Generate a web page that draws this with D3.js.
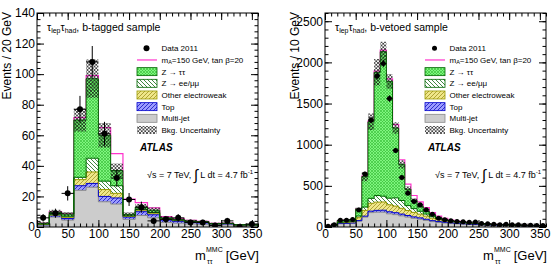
<!DOCTYPE html>
<html>
<head>
<meta charset="utf-8">
<script src="https://cdn.jsdelivr.net/npm/d3@7"></script>
<style>
  body { margin: 0; background: #fff; }
  text { font-family: "Liberation Sans", Arial, Helvetica, sans-serif; fill: #000; }
</style>
</head>
<body>
<div id="chart"></div>
<script>
// ---- b-tagged sample, 20 GeV bins (lower edges)
const tagBins = [0, 20, 40, 60, 80, 100, 120, 140, 160, 180, 200, 220, 240, 260, 280, 300, 320, 340];
const tagData = [6, 9, 22, 77, 108, 61, 32, 18, 13, 4, 5, 6, 3, 3, 1, 4, 0, 2];
const tagMultijet = [1.2, 6.5, 4.5, 24, 26, 16.5, 15, 5, 7.5, 6, 3, 2.5, 2, 1.8, 1.2, 1.4, 0.8, 0.8];
const tagTop = [0.3, 0.8, 1.0, 3, 2.5, 3.5, 4, 1.5, 2.5, 2, 1.5, 1.2, 1, 0.9, 0.6, 0.6, 0.4, 0.4];
const tagEW = [0.2, 0.5, 0.8, 4, 7.5, 4.5, 3, 0.5, 1, 1, 0.5, 0.5, 0.4, 0.3, 0.2, 0.2, 0.1, 0.1];
const tagZll = [0.2, 0.5, 0.7, 1.5, 9, 5.5, 5, 0.3, 0.5, 0.5, 0.3, 0.3, 0.2, 0.2, 0.1, 0.1, 0.1, 0.1];
const tagZtt = [0.6, 1.5, 1.5, 37.5, 52, 30, 10, 1, 1.5, 1.5, 0.7, 0.5, 0.4, 0.3, 0.2, 0.2, 0.1, 0.1];
const tagSignal = [0, 0.2, 0.3, 1.5, 2, 5, 11, 10, 3, 1.5, 0.8, 0.5, 0.3, 0.2, 0.1, 0, 0, 0];
const tagUnc = [0.6, 1.5, 1.3, 7.5, 12.5, 8, 4.5, 1.3, 2, 1.8, 1, 0.8, 0.7, 0.6, 0.4, 0.4, 0.3, 0.3];

// ---- b-vetoed sample, 10 GeV bins (lower edges)
const vetoBins = [0, 10, 20, 30, 40, 50, 60, 70, 80, 90, 100, 110, 120, 130, 140, 150, 160, 170,
                  180, 190, 200, 210, 220, 230, 240, 250, 260, 270, 280, 290, 300, 310, 320, 330, 340, 350];
const vetoData = [10, 28, 82, 82, 92, 206, 645, 1300, 1835, 1985, 1560, 930, 600, 410, 310, 270, 210, 155,
                  105, 88, 76, 68, 65, 58, 62, 42, 40, 32, 28, 32, 28, 26, 22, 20, 18, 18];
const vetoMultijet = [4, 15, 40, 42, 45, 70, 120, 175, 180, 180, 160, 150, 135, 120, 105, 95, 80, 65,
                      55, 48, 42, 37, 33, 30, 27, 24, 22, 20, 18, 16, 15, 14, 13, 12, 11, 10];
const vetoTop = [0, 1, 2, 3, 4, 8, 12, 18, 22, 24, 25, 24, 22, 20, 18, 16, 14, 12,
                 11, 10, 9, 8, 7, 6, 5, 5, 4, 4, 3, 3, 3, 2, 2, 2, 2, 2];
const vetoEW = [1, 3, 10, 12, 14, 35, 70, 95, 100, 100, 85, 80, 70, 60, 55, 45, 38, 30,
                25, 20, 17, 14, 12, 10, 9, 8, 7, 6, 5, 5, 4, 4, 3, 3, 3, 2];
const vetoZll = [1, 2, 5, 6, 7, 20, 40, 60, 80, 70, 80, 100, 95, 60, 45, 35, 25, 18,
                 12, 8, 6, 4, 3, 3, 2, 2, 1, 1, 1, 1, 1, 1, 1, 0, 0, 0];
const vetoZtt = [2, 5, 20, 22, 20, 87, 370, 930, 1498, 1756, 1420, 850, 440, 200, 100, 60, 35, 20,
                 12, 8, 5, 4, 3, 2, 2, 1, 1, 1, 1, 1, 0, 0, 0, 0, 0, 0];
const vetoSignal = [0, 0, 0, 0, 0, 1, 5, 10, 15, 20, 30, 40, 55, 60, 60, 55, 45, 30,
                    18, 10, 6, 4, 3, 2, 2, 1, 1, 1, 1, 1, 0, 0, 0, 0, 0, 0];
const vetoUnc = [1, 3, 7, 7, 8, 18, 55, 100, 160, 120, 90, 70, 50, 35, 25, 20, 15, 12,
                 9, 8, 7, 6, 5, 4, 4, 3, 3, 3, 3, 2, 2, 2, 2, 2, 2, 2];

// ---- axes
const xTicks = [0, 50, 100, 150, 200, 250, 300, 350];
const tagYTicks = [0, 20, 40, 60, 80, 100, 120, 140];
const vetoYTicks = [0, 500, 1000, 1500, 2000, 2500];
const legendLabels = ["Data 2011", "", "Z \u2192 \u03c4\u03c4", "Z \u2192 ee/\u03bc\u03bc",
                      "Other electroweak", "Top", "Multi-jet", "Bkg. Uncertainty"];

const W = 553, H = 264;
const plotTop = 13, plotBottom = 227, plotW = 221;

const svg = d3.select("#chart").append("svg").attr("width", W).attr("height", H);
const defs = svg.append("defs");

// hatch patterns
function hatch(id, bg, color, sw, dirs, s) {
  const p = defs.append("pattern").attr("id", id)
    .attr("patternUnits", "userSpaceOnUse").attr("width", s).attr("height", s);
  if (bg) p.append("rect").attr("width", s).attr("height", s).attr("fill", bg);
  const segs = [];
  if (dirs.includes("/")) segs.push([0, s, s, 0], [-1, 1, 1, -1], [s - 1, s + 1, s + 1, s - 1]);
  if (dirs.includes("\\")) segs.push([0, 0, s, s], [-1, s - 1, 1, s + 1], [s - 1, -1, s + 1, 1]);
  segs.forEach(c => p.append("line")
    .attr("x1", c[0]).attr("y1", c[1]).attr("x2", c[2]).attr("y2", c[3])
    .attr("stroke", color).attr("stroke-width", sw));
}
hatch("pZtt", "#7ff57f", "#3cc23c", 0.7, "/\\", 3);
hatch("pZll", "#ffffff", "#2a7a2a", 0.9, "\\", 4);
hatch("pEW", "#efe78a", "#a99b2c", 0.9, "/", 4);
hatch("pTop", "#9c9cff", "#2323c4", 0.9, "/", 4);
hatch("pUnc", null, "#111111", 0.7, "/\\", 3.5);

function drawPanel(p) {
  const x = d3.scaleLinear().domain([0, 360]).range([p.x0, p.x0 + plotW]);
  const y = d3.scaleLinear().domain([0, p.ymax]).range([plotBottom, plotTop]);
  const n = p.bins.length;
  const g = svg.append("g");

  defs.append("clipPath").attr("id", "clip" + p.id).append("rect")
    .attr("x", p.x0).attr("y", plotTop).attr("width", plotW).attr("height", plotBottom - plotTop);
  const plot = g.append("g").attr("clip-path", `url(#clip${p.id})`);

  const layers = [
    { vals: p.multijet, fill: "#cccccc", stroke: "#8a8a8a" },
    { vals: p.top, fill: "url(#pTop)", stroke: "#0000cc" },
    { vals: p.ew, fill: "url(#pEW)", stroke: "#999900" },
    { vals: p.zll, fill: "url(#pZll)", stroke: "#006600" },
    { vals: p.ztt, fill: "url(#pZtt)", stroke: "#006600" }
  ];
  let base = p.bins.map(() => 0);
  layers.forEach(l => {
    l.lo = base;
    l.hi = base.map((b, i) => b + l.vals[i]);
    base = l.hi;
  });
  const total = base;

  const line = d3.line().x(d => x(d[0])).y(d => y(d[1]));
  const step = vals => {
    const pts = [[p.bins[0], 0]];
    p.bins.forEach((b, i) => { pts.push([b, vals[i]]); pts.push([b + p.width, vals[i]]); });
    pts.push([p.bins[n - 1] + p.width, 0]);
    return line(pts);
  };
  const area = d3.area().x(d => x(d[0])).y0(d => y(d[1])).y1(d => y(d[2]));
  const band = (lo, hi) => {
    const pts = [];
    p.bins.forEach((b, i) => { pts.push([b, lo[i], hi[i]]); pts.push([b + p.width, lo[i], hi[i]]); });
    return area(pts);
  };

  // signal on top of background (drawn first, stack outlines cover it where zero)
  plot.append("path").attr("d", step(total.map((t, i) => t + p.signal[i])))
    .attr("fill", "none").attr("stroke", "#ff33cc").attr("stroke-width", 1.2);

  layers.forEach(l => {
    plot.append("path").attr("d", band(l.lo, l.hi)).attr("fill", l.fill);
  });
  layers.forEach(l => {
    plot.append("path").attr("d", step(l.hi)).attr("fill", "none")
      .attr("stroke", l.stroke).attr("stroke-width", 1);
  });

  plot.append("path")
    .attr("d", band(total.map((t, i) => Math.max(0, t - p.unc[i])), total.map((t, i) => t + p.unc[i])))
    .attr("fill", "url(#pUnc)");

  // data points
  const pts = plot.append("g");
  p.data.forEach((v, i) => {
    const cx = x(p.bins[i] + p.width / 2), e = Math.sqrt(v);
    pts.append("line").attr("x1", cx).attr("x2", cx).attr("y1", y(v + e)).attr("y2", y(Math.max(0, v - e)))
      .attr("stroke", "#000").attr("stroke-width", 1);
    pts.append("line").attr("x1", x(p.bins[i])).attr("x2", x(p.bins[i] + p.width)).attr("y1", y(v)).attr("y2", y(v))
      .attr("stroke", "#000").attr("stroke-width", 1);
    pts.append("circle").attr("cx", cx).attr("cy", y(v)).attr("r", p.r).attr("fill", "#000");
  });

  // frame and axes (ticks inside, on all sides)
  g.append("rect").attr("x", p.x0).attr("y", plotTop).attr("width", plotW).attr("height", plotBottom - plotTop)
    .attr("fill", "none").attr("stroke", "#000").attr("stroke-width", 1);

  const xMinor = d3.range(0, 361, 10);
  const yMinor = d3.range(0, p.ymax + 0.001, p.yMinorStep);
  const fmt = d3.format("d");
  const put = (axis, tr) => {
    const a = g.append("g").attr("transform", tr).call(axis);
    a.select(".domain").remove();
    a.selectAll("text").style("font-family", '"Liberation Sans", Arial, sans-serif').style("font-size", "12px");
    a.selectAll("line").attr("stroke", "#000");
  };
  put(d3.axisBottom(x).tickValues(xTicks).tickFormat(fmt).tickSize(-7).tickPadding(2), `translate(0,${plotBottom})`);
  put(d3.axisBottom(x).tickValues(xMinor).tickSize(-3.5).tickFormat(""), `translate(0,${plotBottom})`);
  put(d3.axisTop(x).tickValues(xTicks).tickSize(-7).tickFormat(""), `translate(0,${plotTop})`);
  put(d3.axisTop(x).tickValues(xMinor).tickSize(-3.5).tickFormat(""), `translate(0,${plotTop})`);
  put(d3.axisLeft(y).tickValues(p.yTicks).tickFormat(fmt).tickSize(-7).tickPadding(2), `translate(${p.x0},0)`);
  put(d3.axisLeft(y).tickValues(yMinor).tickSize(-3.5).tickFormat(""), `translate(${p.x0},0)`);
  put(d3.axisRight(y).tickValues(p.yTicks).tickSize(-7).tickFormat(""), `translate(${p.x0 + plotW},0)`);
  put(d3.axisRight(y).tickValues(yMinor).tickSize(-3.5).tickFormat(""), `translate(${p.x0 + plotW},0)`);

  // axis titles
  g.append("text").attr("transform", `translate(${p.x0 - 26.5},12) rotate(-90)`)
    .attr("text-anchor", "end").style("font-size", "12px").text(p.yTitle);
  const xr = p.x0 + plotW;
  g.append("text").attr("x", xr - 63).attr("y", 260).style("font-size", "13px").text("m");
  g.append("text").attr("x", xr - 52).attr("y", 252).style("font-size", "7px").text("MMC");
  g.append("text").attr("x", xr - 51).attr("y", 264).style("font-size", "7px").text("\u03c4\u03c4");
  g.append("text").attr("x", xr + 1).attr("y", 260).attr("text-anchor", "end").style("font-size", "13px").text("[GeV]");

  // sample title
  const t = g.append("text").attr("x", p.x0 + 10).attr("y", 31).style("font-size", "10.5px");
  t.append("tspan").text("\u03c4");
  t.append("tspan").attr("dy", 2).style("font-size", "7px").text("lep");
  t.append("tspan").attr("dy", -2).text("\u03c4");
  t.append("tspan").attr("dy", 2).style("font-size", "7px").text("had");
  t.append("tspan").attr("dy", -2).text(", " + p.title);

  // legend
  const lx = p.x0 + 100;
  const rowY = i => 48.3 + i * 11.67;
  const fills = ["", "", "url(#pZtt)", "url(#pZll)", "url(#pEW)", "url(#pTop)", "#cccccc", "url(#pUnc)"];
  const strokes = ["", "", "#006600", "#006600", "#999900", "#0000cc", "#8a8a8a", "none"];
  legendLabels.forEach((lab, i) => {
    const ry = rowY(i);
    if (i === 0) {
      g.append("circle").attr("cx", lx + 9.5).attr("cy", ry).attr("r", p.r).attr("fill", "#000");
    } else if (i === 1) {
      g.append("line").attr("x1", lx).attr("x2", lx + 20).attr("y1", ry).attr("y2", ry)
        .attr("stroke", "#ff33cc").attr("stroke-width", 1.2);
    } else {
      g.append("rect").attr("x", lx).attr("y", ry - 4).attr("width", 20).attr("height", 8)
        .attr("fill", fills[i]).attr("stroke", strokes[i]).attr("stroke-width", 0.8);
    }
    const tx = g.append("text").attr("x", lx + 24.5).attr("y", ry + 3).style("font-size", "8px");
    if (i === 1) {
      tx.append("tspan").text("m");
      tx.append("tspan").attr("dy", 1.5).style("font-size", "5.5px").text("A");
      tx.append("tspan").attr("dy", -1.5).text("=150 GeV, tan \u03b2=20");
    } else {
      tx.text(lab);
    }
  });

  g.append("text").attr("x", p.x0 + 103).attr("y", 150.5)
    .style("font-size", "10px").style("font-weight", "bold").style("font-style", "italic").text("ATLAS");

  const en = g.append("text").attr("x", p.x0 + 110).attr("y", 178).style("font-size", "9px");
  en.append("tspan").text("\u221as = 7 TeV, ");
  en.append("tspan").style("font-size", "15px").attr("dy", 1.5).text("\u222b");
  en.append("tspan").attr("dy", -1.5).text(" L dt = 4.7 fb");
  en.append("tspan").attr("dy", -4).style("font-size", "6px").text("-1");
}

drawPanel({
  id: "tag", x0: 37, ymax: 140, yMinorStep: 4, yTicks: tagYTicks, r: 3,
  bins: tagBins, width: 20, data: tagData, multijet: tagMultijet, top: tagTop, ew: tagEW,
  zll: tagZll, ztt: tagZtt, signal: tagSignal, unc: tagUnc,
  yTitle: "Events / 20 GeV", title: "b-tagged sample"
});
drawPanel({
  id: "veto", x0: 325, ymax: 2600, yMinorStep: 100, yTicks: vetoYTicks, r: 2.5,
  bins: vetoBins, width: 10, data: vetoData, multijet: vetoMultijet, top: vetoTop, ew: vetoEW,
  zll: vetoZll, ztt: vetoZtt, signal: vetoSignal, unc: vetoUnc,
  yTitle: "Events / 10 GeV", title: "b-vetoed sample"
});
</script>
</body>
</html>
